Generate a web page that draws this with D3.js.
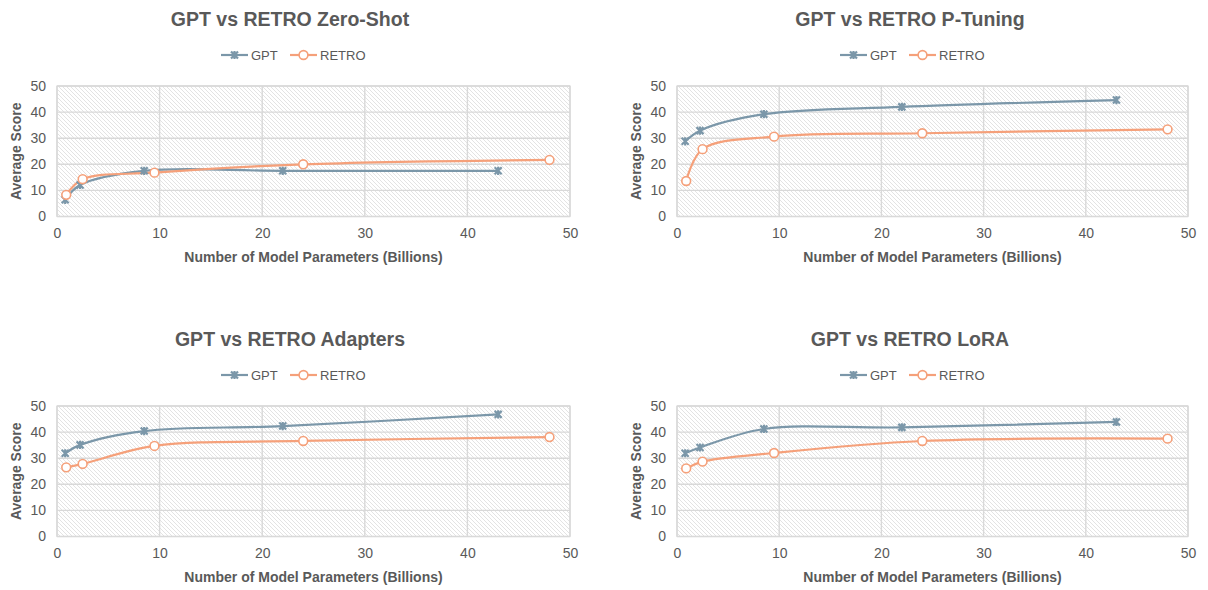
<!DOCTYPE html>
<html><head><meta charset="utf-8">
<script src="https://cdn.jsdelivr.net/npm/d3@7"></script>
<style>
html,body{margin:0;padding:0;background:#fff;}
svg{display:block;font-family:"Liberation Sans",Arial,sans-serif;}
</style></head>
<body><svg id="c" width="1208" height="590"></svg>
<script>
// ---- data ----
const titles = ["GPT vs RETRO Zero-Shot","GPT vs RETRO P-Tuning","GPT vs RETRO Adapters","GPT vs RETRO LoRA"];
const seriesNames = ["GPT","RETRO"];
const gptParams = [0.8, 2.25, 8.5, 22, 43];
const retroParams = [0.9, 2.5, 9.5, 24, 48];
const gptZeroShot = [6.4, 12.1, 17.5, 17.5, 17.5];
const retroZeroShot = [8.3, 14.3, 16.8, 20.0, 21.7];
const gptPTuning = [28.8, 32.9, 39.2, 42.0, 44.6];
const retroPTuning = [13.6, 25.8, 30.6, 31.9, 33.4];
const gptAdapters = [31.9, 35.1, 40.4, 42.3, 46.8];
const retroAdapters = [26.5, 27.8, 34.7, 36.6, 38.1];
const gptLoRA = [31.9, 34.1, 41.2, 41.8, 43.9];
const retroLoRA = [26.1, 28.7, 32.0, 36.6, 37.5];
const xTicks = [0, 10, 20, 30, 40, 50];
const yTicks = [0, 10, 20, 30, 40, 50];
const xTitle = "Number of Model Parameters (Billions)";
const yTitle = "Average Score";

const gptSets = [gptZeroShot, gptPTuning, gptAdapters, gptLoRA];
const retroSets = [retroZeroShot, retroPTuning, retroAdapters, retroLoRA];

// ---- layout ----
const panels = [
  {l:57, r:570, t:86, b:216.5, titleX:290, legX:221},
  {l:677, r:1188, t:86, b:216.5, titleX:910, legX:840},
  {l:57, r:570, t:406, b:536.5, titleX:290, legX:221},
  {l:677, r:1188, t:406, b:536.5, titleX:910, legX:840}
];
const GPT_COLOR = "#7b97a9";
const RETRO_COLOR = "#f5a07a";
const TEXT = "#595959";
const GRID = "#d9d9d9";

const svg = d3.select("#c");
const defs = svg.append("defs");
const pat = defs.append("pattern").attr("id","hatch").attr("patternUnits","userSpaceOnUse")
  .attr("width",4).attr("height",4);
pat.append("rect").attr("width",4).attr("height",4).attr("fill","#fff");
pat.append("path").attr("d","M-1,-1L5,5M-1,3L1,5M3,-1L5,1")
  .attr("stroke","#dcdcdc").attr("stroke-width",0.8);

function xMarker(g, x, y){
  const s = 3.5;
  g.append("path").attr("d",`M${x-s},${y-s}L${x+s},${y+s}M${x-s},${y+s}L${x+s},${y-s}M${x},${y-s-0.6}L${x},${y+s+0.6}`)
   .attr("stroke",GPT_COLOR).attr("stroke-width",2.2).attr("fill","none");
}
function oMarker(g, x, y){
  g.append("circle").attr("cx",x).attr("cy",y).attr("r",4.4)
   .attr("fill","#fff").attr("stroke",RETRO_COLOR).attr("stroke-width",1.6);
}

panels.forEach((p, i) => {
  const g = svg.append("g");
  const x = d3.scaleLinear().domain([0,50]).range([p.l, p.r]);
  const y = d3.scaleLinear().domain([0,50]).range([p.b, p.t]);

  // plot area
  g.append("rect").attr("x",p.l).attr("y",p.t).attr("width",p.r-p.l).attr("height",p.b-p.t)
    .attr("fill","url(#hatch)").attr("stroke",GRID).attr("stroke-width",1.2);

  // gridlines
  g.selectAll(".hg").data(yTicks).enter().append("line")
    .attr("x1",p.l).attr("x2",p.r).attr("y1",d=>y(d)).attr("y2",d=>y(d))
    .attr("stroke",GRID).attr("stroke-width",1.4);
  g.selectAll(".vg").data(xTicks).enter().append("line")
    .attr("y1",p.t).attr("y2",p.b).attr("x1",d=>x(d)).attr("x2",d=>x(d))
    .attr("stroke",GRID).attr("stroke-width",1.4);

  // axes via d3
  const xa = g.append("g").attr("transform",`translate(0,${p.b})`)
    .call(d3.axisBottom(x).tickValues(xTicks).tickSize(0).tickPadding(12));
  xa.select(".domain").remove();
  xa.selectAll("text").attr("fill",TEXT).style("font-size","14px").style("font-family","Liberation Sans, Arial, sans-serif");
  const ya = g.append("g").attr("transform",`translate(${p.l},0)`)
    .call(d3.axisLeft(y).tickValues(yTicks).tickSize(0).tickPadding(11));
  ya.select(".domain").remove();
  ya.selectAll("text").attr("fill",TEXT).style("font-size","14px").style("font-family","Liberation Sans, Arial, sans-serif");

  // titles
  g.append("text").attr("x",p.titleX).attr("y",p.t-60).attr("text-anchor","middle")
    .attr("fill",TEXT).style("font-size","19.5px").style("font-weight","bold").text(titles[i]);
  g.append("text").attr("x",(p.l+p.r)/2).attr("y",p.b+45).attr("text-anchor","middle")
    .attr("fill",TEXT).style("font-size","14px").style("font-weight","bold").text(xTitle);
  g.append("text").attr("transform",`translate(${p.l-41},${(p.t+p.b)/2}) rotate(-90)`)
    .attr("text-anchor","middle").attr("dy","0.35em")
    .attr("fill",TEXT).style("font-size","14px").style("font-weight","bold").text(yTitle);

  // legend
  const ly = p.t - 31;
  const lg = g.append("g");
  lg.append("line").attr("x1",p.legX).attr("x2",p.legX+27).attr("y1",ly).attr("y2",ly)
    .attr("stroke",GPT_COLOR).attr("stroke-width",2.2);
  xMarker(lg, p.legX+13.5, ly);
  lg.append("text").attr("x",p.legX+30).attr("y",ly).attr("dy","0.35em").attr("fill",TEXT)
    .style("font-size","13px").text(seriesNames[0]);
  lg.append("line").attr("x1",p.legX+69).attr("x2",p.legX+96).attr("y1",ly).attr("y2",ly)
    .attr("stroke",RETRO_COLOR).attr("stroke-width",2.2);
  oMarker(lg, p.legX+82.5, ly);
  lg.append("text").attr("x",p.legX+99).attr("y",ly).attr("dy","0.35em").attr("fill",TEXT)
    .style("font-size","13px").text(seriesNames[1]);

  // lines
  const line = d3.line().x(d=>x(d[0])).y(d=>y(d[1])).curve(d3.curveCatmullRom.alpha(0.5));
  const gd = gptParams.map((v,k)=>[v, gptSets[i][k]]);
  const rd = retroParams.map((v,k)=>[v, retroSets[i][k]]);
  g.append("path").datum(gd).attr("d",line).attr("fill","none").attr("stroke",GPT_COLOR).attr("stroke-width",2.2);
  g.append("path").datum(rd).attr("d",line).attr("fill","none").attr("stroke",RETRO_COLOR).attr("stroke-width",2.2);
  gd.forEach(d=>xMarker(g, x(d[0]), y(d[1])));
  rd.forEach(d=>oMarker(g, x(d[0]), y(d[1])));
});
</script></body></html>
